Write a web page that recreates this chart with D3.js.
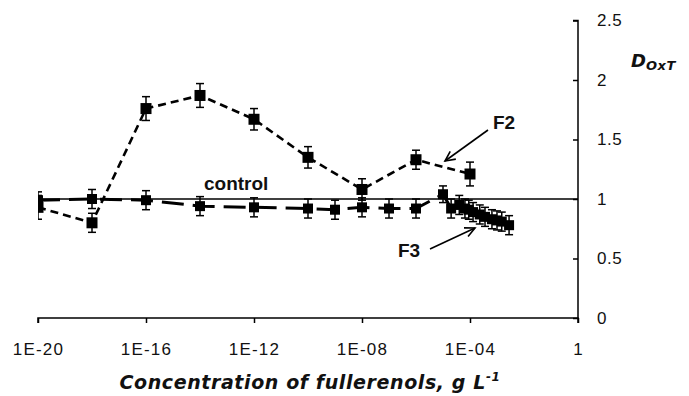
<!DOCTYPE html>
<html><head><meta charset="utf-8">
<script src="https://cdn.jsdelivr.net/npm/d3@7"></script>
<style>body{margin:0;background:#fff;} svg{display:block;font-family:"Liberation Sans",Arial,sans-serif;}</style>
</head><body>
<script>
const xTicks = [1e-20,1e-16,1e-12,1e-8,1e-4,1];
const xTickLabels = ["1E-20","1E-16","1E-12","1E-08","1E-04","1"];
const yTicks = [0,0.5,1,1.5,2,2.5];
const yTickLabels = ["0","0.5","1","1.5","2","2.5"];

const f2Conc = [1e-20,1e-18,1e-16,1e-14,1e-12,1e-10,1e-8,1e-6,1e-4];
const f2Val  = [0.93,0.80,1.76,1.87,1.67,1.35,1.08,1.33,1.21];
const f2Err  = [0.10,0.08,0.10,0.10,0.09,0.09,0.09,0.08,0.10];

const f3Conc = [1e-20,1e-18,1e-16,1e-14,1e-12,1e-10,1e-9,1e-8,1e-7,1e-6,1e-5,2e-5,4e-5,6.5e-5,9e-5,1.3e-4,2.3e-4,3.6e-4,6.5e-4,1e-3,1.5e-3,2.8e-3];
const f3Val  = [0.99,1.00,0.99,0.94,0.93,0.92,0.91,0.93,0.92,0.92,1.04,0.92,0.95,0.92,0.91,0.89,0.87,0.85,0.83,0.82,0.81,0.78];
const f3Err  = [0.07,0.08,0.08,0.08,0.08,0.08,0.08,0.08,0.08,0.08,0.07,0.08,0.08,0.08,0.08,0.08,0.08,0.08,0.08,0.08,0.08,0.08];

const controlValue = 1;

const W = 689, H = 396;
const svg = d3.select("body").append("svg").attr("width", W).attr("height", H);
const x = d3.scaleLog().domain([1e-20, 1]).range([38, 578]);
const y = d3.scaleLinear().domain([0, 2.5]).range([318, 20.5]);

// x axis
const xAxis = d3.axisBottom(x).tickValues(xTicks).tickSize(5).tickFormat((d,i)=>xTickLabels[i]);
const gx = svg.append("g").attr("transform", `translate(0,${y(0)})`).call(xAxis);
gx.select(".domain").attr("d", `M${x(1e-20)},5V0H${x(1)}V5`).attr("stroke","#000").attr("stroke-width",1.5);
gx.selectAll(".tick line").attr("stroke","#000").attr("stroke-width",1.5);
gx.selectAll(".tick text").attr("y", 25).attr("font-size", 17).attr("letter-spacing", 1.2).attr("fill","#111")
  .attr("font-family","Liberation Sans, Arial, sans-serif");

// y axis on the right, ticks to the left
const yAxis = d3.axisLeft(y).tickValues(yTicks).tickSize(5).tickFormat((d,i)=>yTickLabels[i]);
const gy = svg.append("g").attr("transform", `translate(${x(1)},0)`).call(yAxis);
gy.select(".domain").attr("d", `M-5,${y(2.5)}H0V${y(0)}`).attr("stroke","#000").attr("stroke-width",1.5);
gy.selectAll(".tick line").attr("stroke","#000").attr("stroke-width",1.5);
gy.selectAll(".tick text").attr("x", 19).attr("text-anchor","start").attr("font-size", 17).attr("letter-spacing", 0.5).attr("fill","#111")
  .attr("font-family","Liberation Sans, Arial, sans-serif");

// control line
svg.append("line").attr("x1", x(1e-20)).attr("x2", x(1)).attr("y1", y(controlValue)).attr("y2", y(controlValue))
  .attr("stroke","#000").attr("stroke-width",1.5);

// clip
svg.append("clipPath").attr("id","plot").append("rect").attr("x", x(1e-20)).attr("y", 0).attr("width", x(1)-x(1e-20)).attr("height", 330);

function drawSeries(conc, val, err, dash, width, msize) {
  const data = conc.map((c,i)=>({c, v: val[i], e: err[i]}));
  const g = svg.append("g").attr("clip-path","url(#plot)");
  const eb = g.selectAll(".eb").data(data).enter().append("g");
  eb.append("line").attr("x1", d=>x(d.c)).attr("x2", d=>x(d.c)).attr("y1", d=>y(d.v+d.e)).attr("y2", d=>y(d.v-d.e))
    .attr("stroke","#000").attr("stroke-width",1.5);
  eb.append("line").attr("x1", d=>x(d.c)-4).attr("x2", d=>x(d.c)+4).attr("y1", d=>y(d.v+d.e)).attr("y2", d=>y(d.v+d.e))
    .attr("stroke","#000").attr("stroke-width",1.5);
  eb.append("line").attr("x1", d=>x(d.c)-4).attr("x2", d=>x(d.c)+4).attr("y1", d=>y(d.v-d.e)).attr("y2", d=>y(d.v-d.e))
    .attr("stroke","#000").attr("stroke-width",1.5);
  g.append("path").datum(data)
    .attr("d", d3.line().x(d=>x(d.c)).y(d=>y(d.v)))
    .attr("fill","none").attr("stroke","#000").attr("stroke-width",width).attr("stroke-dasharray",dash);
  g.selectAll(".m").data(data).enter().append("rect")
    .attr("x", d=>x(d.c)-msize/2).attr("y", d=>y(d.v)-msize/2)
    .attr("width", msize).attr("height", msize).attr("fill","#000");
}
drawSeries(f3Conc, f3Val, f3Err, "22,9", 3, 10);
drawSeries(f2Conc, f2Val, f2Err, "8,5", 2.6, 11);

// annotations
svg.append("text").attr("x", 204).attr("y", 190).attr("font-size", 19).attr("font-weight","bold").attr("fill","#111").text("control");
svg.append("text").attr("x", 493).attr("y", 129).attr("font-size", 19).attr("font-weight","bold").attr("fill","#111").text("F2");
svg.append("text").attr("x", 398).attr("y", 257).attr("font-size", 19).attr("font-weight","bold").attr("fill","#111").text("F3");

function arrow(x1,y1,x2,y2){
  svg.append("line").attr("x1",x1).attr("y1",y1).attr("x2",x2).attr("y2",y2).attr("stroke","#000").attr("stroke-width",1.6);
  const a = Math.atan2(y2-y1, x2-x1), L = 11, s = 0.45;
  const p = `M${x2-L*Math.cos(a-s)},${y2-L*Math.sin(a-s)}L${x2},${y2}L${x2-L*Math.cos(a+s)},${y2-L*Math.sin(a+s)}`;
  svg.append("path").attr("d",p).attr("fill","none").attr("stroke","#000").attr("stroke-width",1.6);
}
arrow(488,130,445,161);
arrow(430,249,475,228);

// y title
const yt = svg.append("text").attr("x", 631).attr("y", 67).attr("font-weight","bold").attr("font-style","italic").attr("fill","#111")
  .attr("font-family","DejaVu Sans, sans-serif");
yt.append("tspan").attr("font-size", 18).text("D");
yt.append("tspan").attr("font-size", 13).attr("dy", 3).attr("letter-spacing", 0.5).text("OxT");

// x title
const xt = svg.append("text").attr("x", 310).attr("y", 389).attr("text-anchor","middle")
  .attr("font-family","DejaVu Sans, sans-serif")
  .attr("font-weight","bold").attr("font-style","italic").attr("font-size", 19).attr("letter-spacing", 0.6).attr("fill","#111");
xt.append("tspan").text("Concentration of fullerenols, g L");
xt.append("tspan").attr("font-size", 12).attr("dy", -8).text("-1");
</script>
</body></html>
